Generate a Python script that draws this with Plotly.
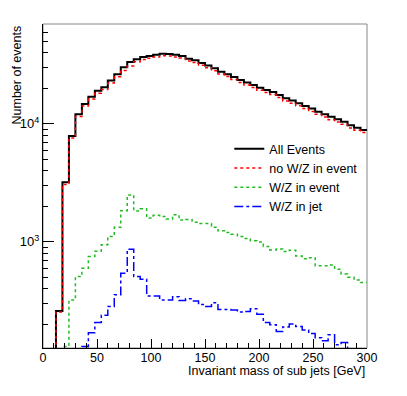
import numpy as np
import plotly.graph_objects as go

# 50 bins of 6 GeV from 0 to 300
bin_edges = np.linspace(0, 300, 51)

all_events = [
    0, 0, 260, 3200, 7910, 12080, 14760, 17000, 19060, 20500,
    23300, 26400, 30200, 33500, 35400, 37000, 37700, 38600, 39400, 39200,
    38600, 37700, 35700, 34700, 32900, 31300, 29600, 27700, 26400, 25000,
    23600, 22400, 21400, 20300, 19400, 18600, 17600, 16500, 15800, 15000,
    14200, 13500, 12700, 12100, 11500, 10960, 10450, 9750, 9300, 8900,
]
no_wz_event = [
    0, 0, 255, 3070, 7590, 11570, 14160, 16250, 18230, 19560,
    22190, 25070, 28360, 31000, 33570, 35090, 36110, 36920, 37760, 37640,
    36900, 36170, 34150, 33230, 31470, 29870, 28270, 26460, 25200, 23840,
    22490, 21330, 20380, 19300, 18490, 17750, 16730, 15670, 14950, 14240,
    13480, 12770, 12070, 11470, 10860, 10370, 9920, 9250, 8820, 8450,
]
wz_event = [
    0, 0, 0, 130, 322, 508, 598, 750, 833, 944,
    1110, 1330, 1840, 2500, 1830, 1910, 1590, 1680, 1640, 1560,
    1700, 1530, 1550, 1470, 1430, 1430, 1330, 1240, 1200, 1160,
    1110, 1070, 1020, 1000, 912, 855, 870, 828, 850, 760,
    721, 735, 627, 627, 638, 587, 533, 502, 476, 452,
]
wz_jet = [
    0, 0, 0, 0, 0, 0, 130, 170, 207, 239,
    283, 356, 543, 867, 508, 483, 348, 348, 322, 322,
    343, 318, 329, 316, 294, 283, 305, 267, 267, 264,
    254, 257, 271, 243, 207, 198, 174, 190, 201, 192,
    179, 167, 154, 145, 163, 134, 140, 0, 0, 0,
]

y_min, y_max = 126, 70300
font = "Liberation Sans, Arial, Helvetica, sans-serif"


def step_xy(values):
    # empty bins can't sit on a log axis, push them below the frame
    v = np.maximum(np.asarray(values, dtype=float), 1.0)
    return list(bin_edges), list(v) + [v[-1]]


series = [
    ("All Events", all_events, dict(color="black", width=2, dash="solid")),
    ("no W/Z in event", no_wz_event, dict(color="#ff0000", width=1.5, dash="dot")),
    ("W/Z in event", wz_event, dict(color="#22bb22", width=1.5, dash="dot")),
    ("W/Z in jet", wz_jet, dict(color="#0000ff", width=1.5, dash="dashdot")),
]

fig = go.Figure()
for name, vals, line in series:
    x, y = step_xy(vals)
    fig.add_trace(go.Scatter(x=x, y=y, mode="lines", name=name, line=line, line_shape="hv"))

minor_y = [m * 10 ** e for e in (2, 3, 4) for m in range(2, 10)]

# the page puts the figure 8px in from the top-left corner, so margins
# are shifted to land the frame where the ROOT canvas has it
fig.update_layout(
    width=407,
    height=396,
    margin=dict(l=32, r=48, t=16, b=56),
    paper_bgcolor="white",
    plot_bgcolor="white",
    font=dict(family=font, size=12, color="black"),
    legend=dict(
        x=0.575, y=0.66, xanchor="left", yanchor="top",
        bgcolor="rgba(0,0,0,0)", font=dict(size=12.5),
        tracegroupgap=0, itemwidth=30,
    ),
    xaxis=dict(
        range=[0, 300],
        tickvals=[0, 50, 100, 150, 200, 250, 300],
        ticks="inside", ticklen=9, tickcolor="black", tickwidth=1,
        minor=dict(dtick=10, ticks="inside", ticklen=5, tickcolor="black"),
        showgrid=False, zeroline=False,
        showline=True, linecolor="black", linewidth=1,
        tickfont=dict(size=12.5), ticklabelstandoff=-2,
    ),
    yaxis=dict(
        type="log",
        range=[np.log10(y_min), np.log10(y_max)],
        tickvals=[1000, 10000],
        ticktext=["10<sup>3</sup>", "10<sup>4</sup>"],
        ticks="inside", ticklen=11, tickcolor="black", tickwidth=1,
        minor=dict(tickvals=minor_y, ticks="inside", ticklen=5, tickcolor="black"),
        showgrid=False, zeroline=False,
        showline=True, linecolor="black", linewidth=1,
        tickfont=dict(size=13),
    ),
    shapes=[
        dict(type="rect", xref="paper", yref="paper", x0=0, x1=1, y0=0, y1=1,
             line=dict(color="#888888", width=1), layer="below"),
    ],
    annotations=[
        dict(text="Invariant mass of sub jets [GeV]", xref="paper", yref="paper",
             x=1, y=0, xanchor="right", yanchor="top", yshift=-14,
             showarrow=False, font=dict(size=12.5)),
        dict(text="Number of events", xref="paper", yref="paper",
             x=0, y=1, xanchor="center", yanchor="top", xshift=-27,
             textangle=-90, showarrow=False, font=dict(size=12.5)),
    ],
)

fig.write_html("out.html")
